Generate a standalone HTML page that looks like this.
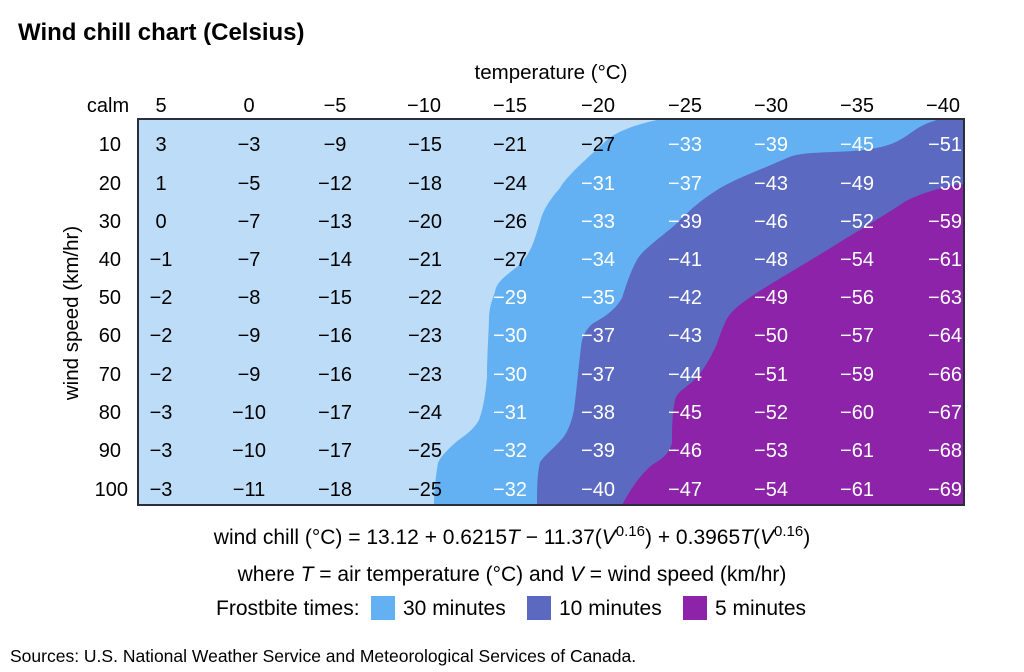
<!DOCTYPE html>
<html><head><meta charset="utf-8"><style>
body{margin:0;background:#fff;}
svg{display:block;font-family:"Liberation Sans",Arial,sans-serif;}
</style></head><body>
<svg width="1024" height="672" viewBox="0 0 1024 672" xmlns="http://www.w3.org/2000/svg">
<rect width="1024" height="672" fill="#fff"/>
<text x="18" y="40" font-size="24" font-weight="bold" fill="#000">Wind chill chart (Celsius)</text>
<text x="551" y="79" font-size="20.5" text-anchor="middle">temperature (°C)</text>
<text x="78" y="313" font-size="20.5" text-anchor="middle" transform="rotate(-90 78 313)">wind speed (km/hr)</text>
<rect x="138" y="119" width="826" height="386" fill="#bcdcf7"/>
<path d="M662,119 C630,125 612,135 607,140 C585,160 565,178 560,188 C545,205 542,215 540,222 C536,235 533,245 530,250 C524,262 518,266 513,270 C500,280 496,285 495,292 C490,305 489,312 489,320 C488,345 487,360 487,377 C485,400 482,412 479,420 C472,432 462,437 455,443 C445,452 440,458 438,463 C435,480 434,495 434,505 L964,505 L964,119 Z" fill="#63b1f2"/>
<path d="M940,119 C930,122 922,125 915,130 C900,140 893,148 853,151 C820,153 800,152 787,158 C760,170 740,177 722,187 C700,200 688,212 676,224 C660,238 645,248 638,258 C630,272 626,286 622,298 C614,312 602,318 592,324 C584,332 582,338 581,347 C578,372 576,395 574,410 C571,425 566,435 561,440 C552,450 545,455 540,462 C537,475 537,490 537,505 L964,505 L964,119 Z" fill="#5b69c0"/>
<path d="M964,184 C945,186 922,193 906,201 C885,215 863,228 840,242 C815,258 785,275 758,292 C740,304 729,312 725,323 C720,333 718,343 714,350 C707,365 699,376 691,383 C682,390 677,393 675,400 C672,415 672,430 672,443 C669,455 660,460 652,465 C640,475 630,490 622,505 L964,505 Z" fill="#8c23a8"/>
<rect x="138" y="119" width="826" height="386" fill="none" stroke="#2b2f3a" stroke-width="2"/>
<g font-size="20" text-anchor="middle" fill="#000">
<text x="108" y="112">calm</text>
<text x="161" y="112">5</text><text x="249" y="112">0</text><text x="335" y="112">−5</text><text x="424" y="112">−10</text><text x="510" y="112">−15</text><text x="598" y="112">−20</text><text x="685" y="112">−25</text><text x="771" y="112">−30</text><text x="857" y="112">−35</text><text x="943" y="112">−40</text>
</g>
<g font-size="20" text-anchor="end" fill="#000">
<text x="121" y="151">10</text><text x="121" y="190">20</text><text x="121" y="228">30</text><text x="121" y="266">40</text><text x="121" y="304">50</text><text x="121" y="342">60</text><text x="121" y="381">70</text><text x="121" y="419">80</text><text x="121" y="457">90</text><text x="128" y="496">100</text>
</g>
<g font-size="20" text-anchor="middle" id="cells"></g>
<text x="512" y="544" font-size="21" text-anchor="middle">wind chill (°C) = 13.12 + 0.6215<tspan font-style="italic">T</tspan> − 11.37(<tspan font-style="italic">V</tspan><tspan font-size="15" dy="-8">0.16</tspan><tspan dy="8">) + 0.3965</tspan><tspan font-style="italic">T</tspan>(<tspan font-style="italic">V</tspan><tspan font-size="15" dy="-8">0.16</tspan><tspan dy="8">)</tspan></text>
<text x="512" y="581" font-size="21" text-anchor="middle">where <tspan font-style="italic">T</tspan> = air temperature (°C) and <tspan font-style="italic">V</tspan> = wind speed (km/hr)</text>
<text x="216" y="615" font-size="21">Frostbite times:</text>
<rect x="371" y="596" width="24" height="24" fill="#63b1f2"/>
<text x="403" y="615" font-size="21">30 minutes</text>
<rect x="527" y="596" width="24" height="24" fill="#5b69c0"/>
<text x="559" y="615" font-size="21">10 minutes</text>
<rect x="683" y="596" width="24" height="24" fill="#8c23a8"/>
<text x="715" y="615" font-size="21">5 minutes</text>
<text x="10" y="662" font-size="17.5">Sources: U.S. National Weather Service and Meteorological Services of Canada.</text>
</svg>
<script>
var d=[[3,-3,-9,-15,-21,-27,-33,-39,-45,-51],[1,-5,-12,-18,-24,-31,-37,-43,-49,-56],[0,-7,-13,-20,-26,-33,-39,-46,-52,-59],[-1,-7,-14,-21,-27,-34,-41,-48,-54,-61],[-2,-8,-15,-22,-29,-35,-42,-49,-56,-63],[-2,-9,-16,-23,-30,-37,-43,-50,-57,-64],[-2,-9,-16,-23,-30,-37,-44,-51,-59,-66],[-3,-10,-17,-24,-31,-38,-45,-52,-60,-67],[-3,-10,-17,-25,-32,-39,-46,-53,-61,-68],[-3,-11,-18,-25,-32,-40,-47,-54,-61,-69]];
var xs=[161,249,335,425,510,598,685,771,857,945],ys=[151,190,228,266,304,342,381,419,457,496];
var g=document.getElementById('cells'),ns='http://www.w3.org/2000/svg';
for(var r=0;r<10;r++)for(var c=0;c<10;c++){var v=d[r][c];var t=document.createElementNS(ns,'text');t.setAttribute('x',xs[c]);t.setAttribute('y',ys[r]);t.setAttribute('fill',v<=-28?'#fff':'#000');t.textContent=(v<0?'−'+(-v):''+v);g.appendChild(t);}
</script>
</body></html>
